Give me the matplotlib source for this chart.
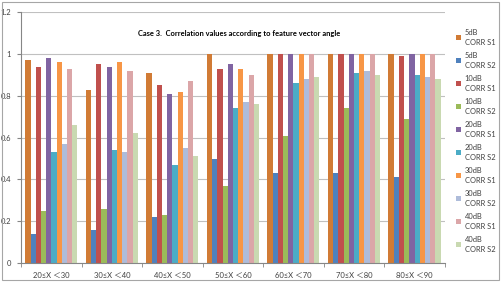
import numpy as np
import matplotlib.pyplot as plt
from matplotlib.patches import Rectangle

plt.rcParams['font.family'] = ['Lato', 'DejaVu Sans', 'Noto Sans CJK JP']

categories = ['20≤X ＜30', '30≤X ＜40', '40≤X ＜50', '50≤X ＜60',
              '60≤X ＜70', '70≤X ＜80', '80≤X ＜90']
series_names = ['5dB\nCORR S1', '5dB\nCORR S2', '10dB\nCORR S1', '10dB\nCORR S2',
                '20dB\nCORR S1', '20dB\nCORR S2', '30dB\nCORR S1', '30dB\nCORR S2',
                '40dB\nCORR S1', '40dB\nCORR S2']

db5_s1 = [0.97, 0.83, 0.91, 1.00, 1.00, 1.00, 1.00]
db5_s2 = [0.14, 0.16, 0.22, 0.50, 0.43, 0.43, 0.41]
db10_s1 = [0.94, 0.95, 0.85, 0.93, 1.00, 1.00, 0.99]
db10_s2 = [0.25, 0.26, 0.23, 0.37, 0.61, 0.74, 0.69]
db20_s1 = [0.98, 0.94, 0.81, 0.95, 1.00, 1.00, 1.00]
db20_s2 = [0.53, 0.54, 0.47, 0.74, 0.86, 0.91, 0.90]
db30_s1 = [0.96, 0.96, 0.82, 0.93, 1.00, 1.00, 1.00]
db30_s2 = [0.57, 0.53, 0.55, 0.77, 0.88, 0.92, 0.89]
db40_s1 = [0.93, 0.92, 0.87, 0.90, 1.00, 1.00, 1.00]
db40_s2 = [0.66, 0.62, 0.51, 0.76, 0.89, 0.90, 0.88]

all_series = [db5_s1, db5_s2, db10_s1, db10_s2, db20_s1,
              db20_s2, db30_s1, db30_s2, db40_s1, db40_s2]
colors = ['#D17B35', '#4F81BD', '#C0504D', '#9BBB59', '#8064A2',
          '#4BACC6', '#F79646', '#AEBCDA', '#DBA6A8', '#C9D9B1']

fig = plt.figure(figsize=(5.02, 2.82), dpi=100)
fig.patches.append(Rectangle((0.004, 0.007), 0.99, 0.985, transform=fig.transFigure,
                             fill=False, edgecolor='#A6A6A6', linewidth=0.8))
ax = fig.add_axes([0.042, 0.067, 0.844, 0.89])

x = np.arange(len(categories))
n = len(all_series)
w = 0.086
for i, vals in enumerate(all_series):
    ax.bar(x + (i - (n - 1) / 2) * w, vals, width=w, color=colors[i],
           label=series_names[i], zorder=2)

ax.set_xlim(-0.5, len(categories) - 0.5)
ax.set_ylim(0, 1.2)
ax.set_yticks(np.arange(0, 1.21, 0.2))
ax.set_yticklabels(['0', '0.2', '0.4', '0.6', '0.8', '1', '1.2'])
ax.set_xticks(x)
ax.set_xticklabels(categories)
ax.set_xticks(np.arange(-0.5, len(categories), 1), minor=True)
ax.tick_params(axis='x', which='major', length=0, labelsize=5.5, pad=6, colors='#404040')
ax.tick_params(axis='x', which='minor', length=3, color='#868686')
ax.tick_params(axis='y', length=3, labelsize=5.5, color='#868686', labelcolor='#404040', pad=4)
ax.grid(axis='y', color='#C0C0C0', linewidth=0.8, zorder=0)
for s in ['top', 'right']:
    ax.spines[s].set_visible(False)
for s in ['left', 'bottom']:
    ax.spines[s].set_color('#868686')
    ax.spines[s].set_linewidth(0.8)

ax.text(0.514, 0.916, 'Case 3.  Correlation values according to feature vector angle',
        transform=ax.transAxes, ha='center', va='center', fontsize=5.4, fontweight='bold')

leg = ax.legend(loc='upper left', bbox_to_anchor=(1.015, 0.955), frameon=False, fontsize=5.4,
                handlelength=0.6, handleheight=0.6, handletextpad=0.5, labelspacing=0.8,
                labelcolor='#404040', borderaxespad=0.3)
for t in leg.get_texts():
    t.set_linespacing(1.5)

fig.savefig('out.png', dpi=100)
